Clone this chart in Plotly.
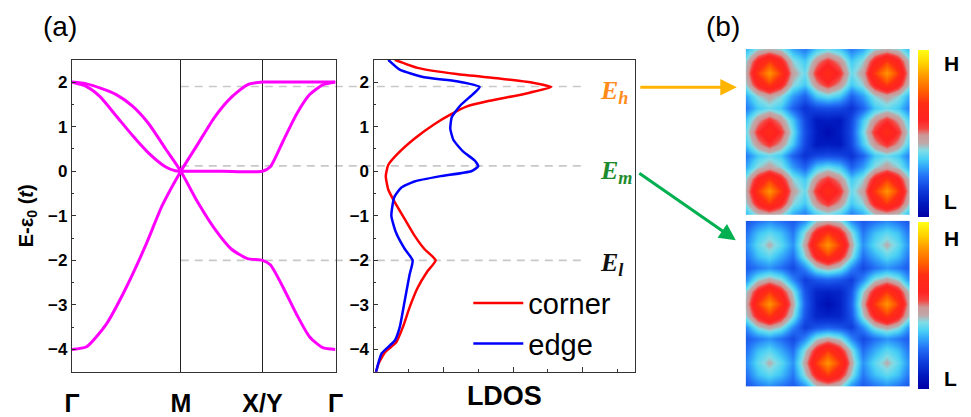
import plotly.graph_objects as go

W, H = 971, 417


def px_x(p):
    return p / W


def px_y(p):
    return 1 - p / H


# ---------------- data: band structure ----------------
K_LABELS = ["Γ", "M", "X/Y", "Γ"]
K_POS = [0.0, 1.41, 2.468, 3.414]

BAND1_K = [0, 0.19, 0.361, 0.574, 0.785, 0.997, 1.21, 1.41, 1.634, 1.847, 2.06, 2.272, 2.468,
           2.57, 2.739, 2.909, 3.079, 3.248, 3.414]
BAND1_E = [2.0, 1.96, 1.87, 1.72, 1.46, 1.06, 0.51, 0.0, -0.71, -1.29, -1.74, -1.96, -2.0,
           -2.1, -2.62, -3.21, -3.72, -3.96, -4.0]

BAND2_K = [0, 0.19, 0.361, 0.574, 0.785, 0.997, 1.21, 1.338, 1.41, 1.94, 2.468,
           2.57, 2.739, 2.909, 3.079, 3.248, 3.414]
BAND2_E = [2.0, 1.90, 1.68, 1.24, 0.80, 0.40, 0.10, 0.01, 0.0, 0.0, 0.0,
           0.1, 0.69, 1.28, 1.72, 1.94, 2.0]

BAND3_K = [0, 0.19, 0.446, 0.70, 0.956, 1.167, 1.41, 1.634, 1.847, 2.06, 2.272, 2.468, 2.94, 3.414]
BAND3_E = [-4.0, -3.94, -3.43, -2.62, -1.66, -0.78, 0.0, 0.62, 1.21, 1.65, 1.94, 2.0, 2.0, 2.0]

# ---------------- data: LDOS ----------------
CORNER_E = [2.5, 2.32, 2.18, 2.08, 1.99, 1.89, 1.74, 1.58, 1.45, 1.27, 1.05, 0.73, 0.40, 0.14,
            -0.11, -0.41, -0.70, -1.07, -1.44, -1.74, -2.0, -2.25, -2.62, -3.06, -3.5, -3.84,
            -4.06, -4.32, -4.51]
CORNER_L = [0.61, 1.26, 2.38, 3.6, 4.53, 5.09, 4.35, 3.32, 2.66, 2.2, 1.73, 1.17, 0.70, 0.42,
            0.35, 0.42, 0.61, 0.89, 1.17, 1.45, 1.78, 1.54, 1.26, 1.03, 0.84, 0.65,
            0.33, 0.14, 0.07]
EDGE_E = [2.5, 2.28, 2.11, 2.02, 1.89, 1.73, 1.47, 1.21, 0.95, 0.70, 0.44, 0.24, 0.11, 0.0,
          -0.11, -0.23, -0.37, -0.59, -1.0, -1.37, -1.74, -2.0, -2.33, -2.92, -3.5, -3.8,
          -4.09, -4.51]
EDGE_L = [0.42, 0.75, 1.45, 2.38, 3.04, 2.85, 2.48, 2.24, 2.2, 2.29, 2.57, 2.9, 3.0, 2.8,
          1.92, 1.17, 0.79, 0.59, 0.51, 0.64, 0.89, 1.12, 1.03, 0.89, 0.75, 0.61,
          0.23, 0.07]

LEVEL_NAMES = ["h", "m", "l"]
LEVEL_E = [1.9, 0.12, -2.0]

# ---------------- data: LDOS maps (read on a 15 x 15 grid) ----------------
TOP_MAP = [
    [0.31, 0.41, 0.44, 0.41, 0.30, 0.25, 0.34, 0.38, 0.34, 0.25, 0.30, 0.41, 0.44, 0.41, 0.31],
    [0.41, 0.59, 0.70, 0.59, 0.41, 0.34, 0.48, 0.56, 0.48, 0.34, 0.41, 0.59, 0.70, 0.59, 0.41],
    [0.44, 0.70, 0.84, 0.70, 0.46, 0.38, 0.56, 0.66, 0.56, 0.38, 0.46, 0.70, 0.84, 0.70, 0.44],
    [0.41, 0.59, 0.70, 0.59, 0.41, 0.34, 0.48, 0.56, 0.48, 0.34, 0.41, 0.59, 0.70, 0.59, 0.41],
    [0.30, 0.41, 0.46, 0.41, 0.29, 0.22, 0.34, 0.38, 0.34, 0.22, 0.29, 0.41, 0.46, 0.41, 0.30],
    [0.25, 0.34, 0.38, 0.34, 0.22, 0.14, 0.18, 0.19, 0.18, 0.14, 0.22, 0.34, 0.38, 0.34, 0.25],
    [0.34, 0.48, 0.56, 0.48, 0.34, 0.18, 0.08, 0.09, 0.08, 0.18, 0.34, 0.48, 0.56, 0.48, 0.34],
    [0.38, 0.56, 0.66, 0.56, 0.38, 0.19, 0.09, 0.04, 0.09, 0.19, 0.38, 0.56, 0.66, 0.56, 0.38],
    [0.34, 0.48, 0.56, 0.48, 0.34, 0.18, 0.08, 0.09, 0.08, 0.18, 0.34, 0.48, 0.56, 0.48, 0.34],
    [0.25, 0.34, 0.38, 0.34, 0.22, 0.14, 0.18, 0.19, 0.18, 0.14, 0.22, 0.34, 0.38, 0.34, 0.25],
    [0.30, 0.41, 0.46, 0.41, 0.29, 0.22, 0.34, 0.38, 0.34, 0.22, 0.29, 0.41, 0.46, 0.41, 0.30],
    [0.41, 0.59, 0.70, 0.59, 0.41, 0.34, 0.48, 0.56, 0.48, 0.34, 0.41, 0.59, 0.70, 0.59, 0.41],
    [0.44, 0.70, 0.84, 0.70, 0.46, 0.38, 0.56, 0.66, 0.56, 0.38, 0.46, 0.70, 0.84, 0.70, 0.44],
    [0.41, 0.59, 0.70, 0.59, 0.41, 0.34, 0.48, 0.56, 0.48, 0.34, 0.41, 0.59, 0.70, 0.59, 0.41],
    [0.31, 0.41, 0.44, 0.41, 0.30, 0.25, 0.34, 0.38, 0.34, 0.25, 0.30, 0.41, 0.44, 0.41, 0.31],
]
BOTTOM_MAP = [
    [0.20, 0.24, 0.27, 0.24, 0.21, 0.27, 0.41, 0.44, 0.41, 0.27, 0.21, 0.24, 0.27, 0.24, 0.20],
    [0.24, 0.33, 0.37, 0.33, 0.25, 0.41, 0.59, 0.70, 0.59, 0.41, 0.25, 0.33, 0.37, 0.33, 0.24],
    [0.27, 0.37, 0.44, 0.37, 0.28, 0.46, 0.70, 0.84, 0.70, 0.46, 0.28, 0.37, 0.44, 0.37, 0.27],
    [0.24, 0.33, 0.37, 0.31, 0.24, 0.41, 0.59, 0.70, 0.59, 0.41, 0.24, 0.31, 0.37, 0.33, 0.24],
    [0.21, 0.25, 0.28, 0.24, 0.18, 0.27, 0.41, 0.46, 0.41, 0.27, 0.18, 0.24, 0.28, 0.25, 0.21],
    [0.27, 0.41, 0.46, 0.41, 0.27, 0.16, 0.20, 0.22, 0.20, 0.16, 0.27, 0.41, 0.46, 0.41, 0.27],
    [0.41, 0.59, 0.70, 0.59, 0.41, 0.20, 0.11, 0.10, 0.11, 0.20, 0.41, 0.59, 0.70, 0.59, 0.41],
    [0.44, 0.70, 0.84, 0.70, 0.46, 0.22, 0.10, 0.05, 0.10, 0.22, 0.46, 0.70, 0.84, 0.70, 0.44],
    [0.41, 0.59, 0.70, 0.59, 0.41, 0.20, 0.11, 0.10, 0.11, 0.20, 0.41, 0.59, 0.70, 0.59, 0.41],
    [0.27, 0.41, 0.46, 0.41, 0.27, 0.16, 0.20, 0.22, 0.20, 0.16, 0.27, 0.41, 0.46, 0.41, 0.27],
    [0.21, 0.25, 0.28, 0.24, 0.18, 0.27, 0.41, 0.46, 0.41, 0.27, 0.18, 0.24, 0.28, 0.25, 0.21],
    [0.24, 0.33, 0.37, 0.31, 0.24, 0.41, 0.59, 0.70, 0.59, 0.41, 0.24, 0.31, 0.37, 0.33, 0.24],
    [0.27, 0.37, 0.44, 0.37, 0.28, 0.46, 0.70, 0.84, 0.70, 0.46, 0.28, 0.37, 0.44, 0.37, 0.27],
    [0.24, 0.33, 0.37, 0.33, 0.25, 0.41, 0.59, 0.70, 0.59, 0.41, 0.25, 0.33, 0.37, 0.33, 0.24],
    [0.20, 0.24, 0.27, 0.24, 0.21, 0.27, 0.41, 0.44, 0.41, 0.27, 0.21, 0.24, 0.27, 0.24, 0.20],
]

JET_LIKE = [
    [0.00, "rgb(0,0,165)"],
    [0.08, "rgb(0,25,190)"],
    [0.16, "rgb(15,60,220)"],
    [0.24, "rgb(35,110,245)"],
    [0.30, "rgb(50,165,250)"],
    [0.35, "rgb(75,210,245)"],
    [0.40, "rgb(130,220,230)"],
    [0.44, "rgb(190,170,170)"],
    [0.49, "rgb(205,150,150)"],
    [0.53, "rgb(245,70,65)"],
    [0.58, "rgb(255,35,35)"],
    [0.68, "rgb(255,45,20)"],
    [0.76, "rgb(255,100,0)"],
    [0.84, "rgb(255,150,0)"],
    [0.92, "rgb(255,210,0)"],
    [1.00, "rgb(255,255,20)"],
]

FONT = "Liberation Sans"
SERIF = "Liberation Serif"
FRAME = "#333333"

fig = go.Figure()

for ks, es in [(BAND1_K, BAND1_E), (BAND2_K, BAND2_E), (BAND3_K, BAND3_E)]:
    fig.add_trace(go.Scatter(
        x=ks, y=es, mode="lines", showlegend=False, hoverinfo="skip",
        line=dict(color="#FF00FF", width=3, shape="spline", smoothing=0.6),
        xaxis="x", yaxis="y"))

fig.add_trace(go.Scatter(
    x=CORNER_L, y=CORNER_E, mode="lines", name="corner",
    line=dict(color="#FF0000", width=2.5, shape="spline", smoothing=0.5),
    xaxis="x2", yaxis="y2"))
fig.add_trace(go.Scatter(
    x=EDGE_L, y=EDGE_E, mode="lines", name="edge",
    line=dict(color="#0000FF", width=2.5, shape="spline", smoothing=0.5),
    xaxis="x2", yaxis="y2"))


def cbar(top_px, bot_px):
    return dict(x=px_x(925), xanchor="left", y=px_y(top_px), yanchor="top",
                len=(bot_px - top_px) / H, lenmode="fraction",
                thickness=11, thicknessmode="pixels", xpad=0, ypad=0,
                outlinewidth=0, showticklabels=False, ticks="")


fig.add_trace(go.Heatmap(z=TOP_MAP, colorscale=JET_LIKE, zmin=0, zmax=1, zsmooth="best",
                         colorbar=cbar(51, 221), xaxis="x3", yaxis="y3", hoverinfo="skip"))
fig.add_trace(go.Heatmap(z=BOTTOM_MAP, colorscale=JET_LIKE, zmin=0, zmax=1, zsmooth="best",
                         colorbar=cbar(226, 396), xaxis="x4", yaxis="y4", hoverinfo="skip"))

ytick_font = dict(family=FONT, size=17, color="black", weight="bold")

band_x_dom = [px_x(65), px_x(333)]
ldos_x_dom = [px_x(371.7), px_x(637.7)]
plot_y_dom = [px_y(379), px_y(61)]

common_y = dict(
    domain=plot_y_dom, range=[-4.5, 2.5], tickmode="linear", tick0=0, dtick=1,
    ticks="inside", ticklen=4, tickwidth=1, tickcolor=FRAME,
    minor=dict(dtick=0.5, ticks="inside", ticklen=2, tickcolor=FRAME),
    showgrid=False, zeroline=False, showline=True, mirror=True,
    linecolor=FRAME, linewidth=1.2, tickfont=ytick_font)

layout = dict(
    width=W, height=H, margin=dict(l=0, r=0, t=0, b=0),
    paper_bgcolor="white", plot_bgcolor="white",
    showlegend=True,
    xaxis=dict(
        domain=band_x_dom, range=[K_POS[0], K_POS[-1]], anchor="y",
        tickmode="array", tickvals=K_POS, ticktext=K_LABELS,
        ticks="outside", ticklen=9, tickcolor="rgba(0,0,0,0)",
        tickfont=dict(family=FONT, size=25, color="black", weight="bold"),
        showgrid=True, gridcolor="#222222", gridwidth=1, zeroline=False,
        showline=True, mirror=True, linecolor=FRAME, linewidth=1.2),
    yaxis=dict(anchor="x",
               title=dict(text="E-ε<sub>0</sub> (<i>t</i>)", standoff=9,
                          font=dict(family=FONT, size=20, color="black", weight="bold")),
               **common_y),
    xaxis2=dict(
        domain=ldos_x_dom, range=[0, 7.5], anchor="y2",
        tickmode="linear", tick0=0, dtick=2, ticks="inside", ticklen=5, tickcolor=FRAME,
        minor=dict(dtick=1, ticks="inside", ticklen=3, tickcolor=FRAME),
        showticklabels=False, showgrid=False, zeroline=False,
        showline=True, mirror=True, linecolor=FRAME, linewidth=1.2,
        title=dict(text="LDOS", standoff=14,
                   font=dict(family=FONT, size=27, color="black", weight="bold"))),
    yaxis2=dict(anchor="x2", **common_y),
    xaxis3=dict(domain=[px_x(750), px_x(917)], range=[0, 14], visible=False, anchor="y3"),
    yaxis3=dict(domain=[px_y(219), px_y(50)], range=[0, 14], visible=False, anchor="x3"),
    xaxis4=dict(domain=[px_x(750), px_x(917)], range=[0, 14], visible=False, anchor="y4"),
    yaxis4=dict(domain=[px_y(394), px_y(225)], range=[0, 14], visible=False, anchor="x4"),
    legend=dict(x=px_x(468), y=px_y(283), xanchor="left", yanchor="top",
                bgcolor="rgba(0,0,0,0)", borderwidth=0, itemwidth=50,
                font=dict(family=FONT, size=29, color="black")),
)
fig.update_layout(**layout)

# dashed guide lines from M across the LDOS panel
m_paper = band_x_dom[0] + (K_POS[1] - K_POS[0]) / (K_POS[-1] - K_POS[0]) * (band_x_dom[1] - band_x_dom[0])
for e in LEVEL_E:
    fig.add_shape(type="line", xref="paper", yref="y", x0=m_paper, x1=px_x(588), y0=e, y1=e,
                  line=dict(color="rgb(200,200,200)", width=1.6, dash="8px,6px"), layer="below")

annotations = [
    dict(text="(a)", x=px_x(53), y=px_y(27), font=dict(family=FONT, size=28, color="black")),
    dict(text="(b)", x=px_x(727), y=px_y(27), font=dict(family=FONT, size=28, color="black")),
    dict(text="<b>H</b>", x=px_x(959), y=px_y(65), font=dict(family=FONT, size=21, color="black")),
    dict(text="<b>L</b>", x=px_x(958), y=px_y(205), font=dict(family=FONT, size=21, color="black")),
    dict(text="<b>H</b>", x=px_x(959), y=px_y(243), font=dict(family=FONT, size=21, color="black")),
    dict(text="<b>L</b>", x=px_x(958), y=px_y(386), font=dict(family=FONT, size=21, color="black")),
]
for a in annotations:
    a.update(xref="paper", yref="paper", showarrow=False, xanchor="center", yanchor="middle")
    fig.add_annotation(**a)

level_colors = ["#FF8C1A", "#1E8C2E", "#111111"]
level_shift = [-5, -6, -4]
for name, e, c, s in zip(LEVEL_NAMES, LEVEL_E, level_colors, level_shift):
    fig.add_annotation(text=f"<b><i>E<sub>{name}</sub></i></b>", xref="paper", yref="y2",
                       x=px_x(600), y=e, yshift=s, xanchor="left", yanchor="middle",
                       showarrow=False, font=dict(family=SERIF, size=26, color=c))

# arrows pointing to the maps
fig.add_annotation(text="", xref="paper", yref="paper", x=px_x(741), y=px_y(89),
                   ax=-98, ay=0, showarrow=True, arrowhead=2, arrowsize=1.1,
                   arrowwidth=3, arrowcolor="#FFB400", standoff=0)
fig.add_annotation(text="", xref="paper", yref="paper", x=px_x(740), y=px_y(245),
                   ax=-98, ay=-68, showarrow=True, arrowhead=2, arrowsize=1.1,
                   arrowwidth=3, arrowcolor="#00B050", standoff=0)

fig.write_html("out.html")
